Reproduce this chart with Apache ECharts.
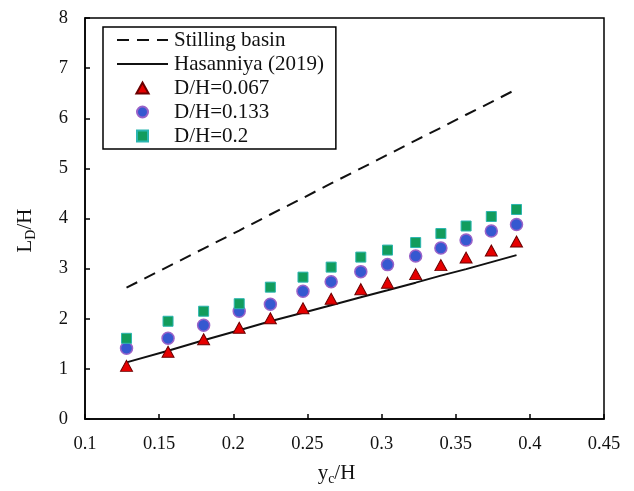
<!DOCTYPE html>
<html>
<head>
<meta charset="utf-8">
<script src="https://cdn.jsdelivr.net/npm/echarts@6/dist/echarts.min.js"></script>
<style>
  html, body { margin: 0; padding: 0; background: #fff; }
  #chart { width: 634px; height: 491px; }
</style>
</head>
<body>
<div id="chart"></div>
<script>
// y_c/H values of the measured points
const xValues = [0.128, 0.156, 0.180, 0.204, 0.225, 0.247, 0.266, 0.286, 0.304, 0.323, 0.340, 0.357, 0.374, 0.391];
// L_D/H series
const stillingBasin = [2.62, 3.04, 3.40, 3.76, 4.08, 4.41, 4.70, 5.00, 5.27, 5.56, 5.81, 6.07, 6.32, 6.58];
const hasanniya2019 = [1.13, 1.36, 1.57, 1.77, 1.95, 2.12, 2.27, 2.43, 2.57, 2.72, 2.86, 2.99, 3.13, 3.27];
const dh067 = [1.06, 1.34, 1.59, 1.82, 2.01, 2.21, 2.40, 2.59, 2.72, 2.89, 3.07, 3.22, 3.36, 3.54];
const dh133 = [1.41, 1.61, 1.87, 2.15, 2.29, 2.55, 2.74, 2.94, 3.08, 3.25, 3.41, 3.57, 3.75, 3.88];
const dh2 = [1.61, 1.95, 2.15, 2.30, 2.63, 2.83, 3.03, 3.23, 3.37, 3.52, 3.70, 3.85, 4.04, 4.18];
const seriesNames = ['Stilling basin', 'Hasanniya (2019)', 'D/H=0.067', 'D/H=0.133', 'D/H=0.2'];
const xTicks = { min: 0.1, max: 0.45, interval: 0.05 };
const yTicks = { min: 0, max: 8, interval: 1 };

const pair = (ys) => xValues.map((x, i) => [x, ys[i]]);
const FONT = '"Liberation Serif", "Times New Roman", serif';

const TRI = 'path://M5,0 L10,9 L0,9 Z';
const CIRC = 'path://M5,0 A5,5 0 1 1 4.99,0 Z';
const SQ = 'path://M0,0 L10,0 L10,10 L0,10 Z';

const nameRich = {
  a: { fontFamily: FONT, fontSize: 21, color: '#111' },
  b: { fontFamily: FONT, fontSize: 14, color: '#111', verticalAlign: 'bottom', padding: [12, 0, 0, 0] }
};

const chart = echarts.init(document.getElementById('chart'));
chart.setOption({
  animation: false,
  backgroundColor: '#fff',
  textStyle: { fontFamily: FONT },
  grid: { left: 85, right: 30, top: 18, bottom: 67, show: true, borderColor: '#000', borderWidth: 1.5, backgroundColor: 'transparent' },
  legend: {
    orient: 'vertical',
    left: 103, top: 27,
    padding: [1, 12, 1, 13],
    itemWidth: 51, itemHeight: 11, itemGap: 0,
    borderColor: '#000', borderWidth: 1.5,
    backgroundColor: '#fff',
    symbolKeepAspect: true,
    data: [
      { name: seriesNames[0], itemStyle: { opacity: 0 } },
      { name: seriesNames[1], itemStyle: { opacity: 0 } },
      { name: seriesNames[2], icon: TRI },
      { name: seriesNames[3], icon: CIRC },
      { name: seriesNames[4], icon: SQ }
    ],
    textStyle: { fontFamily: FONT, fontSize: 21, color: '#111', lineHeight: 24, padding: [0, 0, 0, 1] }
  },
  xAxis: {
    type: 'value', min: xTicks.min, max: xTicks.max, interval: xTicks.interval,
    name: '{a|y}{b|c}{a|/H}', nameLocation: 'middle', nameGap: 41,
    nameTextStyle: { rich: nameRich, padding: [0, 16, 0, 0] },
    axisLine: { onZero: false, lineStyle: { color: '#000', width: 1.5 } },
    axisTick: { inside: true, length: 5, lineStyle: { color: '#000', width: 1.5 } },
    axisLabel: { margin: 16, fontFamily: FONT, fontSize: 18.5, color: '#111', formatter: v => String(+v.toFixed(2)) },
    splitLine: { show: false }
  },
  yAxis: {
    type: 'value', min: yTicks.min, max: yTicks.max, interval: yTicks.interval,
    name: '{a|L}{b|D}{a|/H}', nameLocation: 'middle', nameGap: 47,
    nameTextStyle: { rich: nameRich, padding: [0, 24, 0, 0] },
    axisLine: { onZero: false, lineStyle: { color: '#000', width: 1.5 } },
    axisTick: { inside: true, length: 5, lineStyle: { color: '#000', width: 1.5 } },
    axisLabel: { margin: 17, fontFamily: FONT, fontSize: 18.5, color: '#111' },
    splitLine: { show: false }
  },
  series: [
    {
      name: seriesNames[0], type: 'line', data: pair(stillingBasin), symbol: 'none', z: 2,
      lineStyle: { color: '#111', width: 2, type: [12, 8] }, itemStyle: { color: '#111' }
    },
    {
      name: seriesNames[1], type: 'line', data: pair(hasanniya2019), symbol: 'none', z: 2,
      lineStyle: { color: '#111', width: 2 }, itemStyle: { color: '#111' }
    },
    {
      name: seriesNames[2], type: 'scatter', data: pair(dh067), symbol: 'triangle', symbolSize: [12, 11], z: 3,
      itemStyle: { color: '#e60000', borderColor: '#6b0000', borderWidth: 1, opacity: 1 }
    },
    {
      name: seriesNames[3], type: 'scatter', data: pair(dh133), symbol: 'circle', symbolSize: 12, z: 4,
      itemStyle: { color: '#3558d0', borderColor: '#9a62c8', borderWidth: 1.5, opacity: 1 }
    },
    {
      name: seriesNames[4], type: 'scatter', data: pair(dh2), symbol: 'rect', symbolSize: 10, z: 5,
      itemStyle: { color: '#129c5c', borderColor: '#2bb5b0', borderWidth: 1, opacity: 1 }
    }
  ]
});
</script>
</body>
</html>
